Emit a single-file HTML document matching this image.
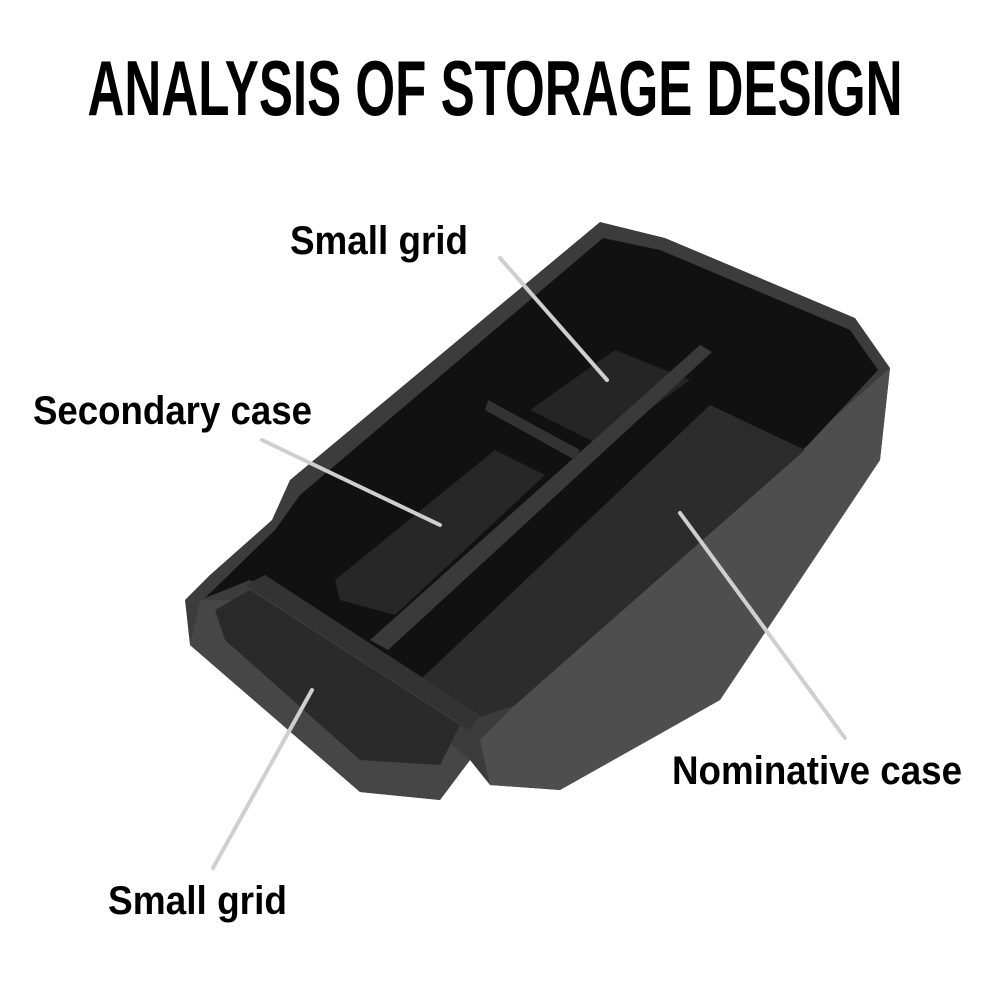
<!DOCTYPE html>
<html><head><meta charset="utf-8"><style>
html,body{margin:0;padding:0;background:#fff;width:1000px;height:1000px;overflow:hidden}
svg{display:block}
text{font-family:"Liberation Sans Narrow","Liberation Sans",sans-serif;font-weight:bold;fill:#000}
</style></head><body>
<svg width="1000" height="1000" viewBox="0 0 1000 1000" xmlns="http://www.w3.org/2000/svg">
<rect width="1000" height="1000" fill="#fff"/>
<text x="495" y="115" font-size="78" text-anchor="middle" textLength="815" lengthAdjust="spacingAndGlyphs">ANALYSIS OF STORAGE DESIGN</text>
<!-- outer tray silhouette -->
<polygon points="185,600 210,575 272,520 290,480 600,222 665,238 855,318 890,368 880,460 720,700 560,790 490,785 470,760 440,800 360,792 190,645" fill="#3c3c3c"/>
<!-- right front wall lighter -->
<polygon points="890,368 880,460 720,700 560,790 490,785 480,740 520,700 820,430" fill="#4e4e4e"/>
<!-- front wall -->
<polygon points="190,645 360,792 440,800 470,760 440,735 250,600 200,600" fill="#464646"/>
<!-- interior black -->
<polygon points="205,598 275,530 300,495 603,238 660,250 850,330 878,370 808,445 515,705 470,720 430,695 250,580" fill="#111"/>
<!-- big right mat -->
<polygon points="420,680 710,405 805,450 515,705 470,720" fill="#2c2c2c"/>
<!-- secondary mat -->
<polygon points="340,600 335,580 495,450 545,475 395,615" fill="#272727"/>
<!-- top small mat -->
<polygon points="530,410 615,350 690,380 600,445" fill="#252525"/>
<!-- divider ridge -->
<polygon points="370,640 700,345 712,352 388,650" fill="#3a3a3a"/>
<polygon points="488,400 580,450 575,460 485,410" fill="#333"/>
<!-- bottom small mat -->
<polygon points="215,610 250,590 460,725 440,765 360,760 225,640" fill="#2a2a2a"/>
<polygon points="245,585 265,575 480,715 470,730" fill="#333"/>
<!-- pointer lines -->
<g stroke="#cfcfcf" stroke-width="4" stroke-linecap="round">
<line x1="500" y1="258" x2="607" y2="380"/>
<line x1="262" y1="440" x2="440" y2="525"/>
<line x1="845" y1="738" x2="680" y2="513"/>
<line x1="213" y1="868" x2="312" y2="690"/>
</g>
<text x="290" y="254" font-size="40" textLength="178" lengthAdjust="spacingAndGlyphs">Small grid</text>
<text x="33" y="424" font-size="40" textLength="279" lengthAdjust="spacingAndGlyphs">Secondary case</text>
<text x="672" y="784" font-size="40" textLength="290" lengthAdjust="spacingAndGlyphs">Nominative case</text>
<text x="108" y="914" font-size="40" textLength="179" lengthAdjust="spacingAndGlyphs">Small grid</text>
</svg>
</body></html>
